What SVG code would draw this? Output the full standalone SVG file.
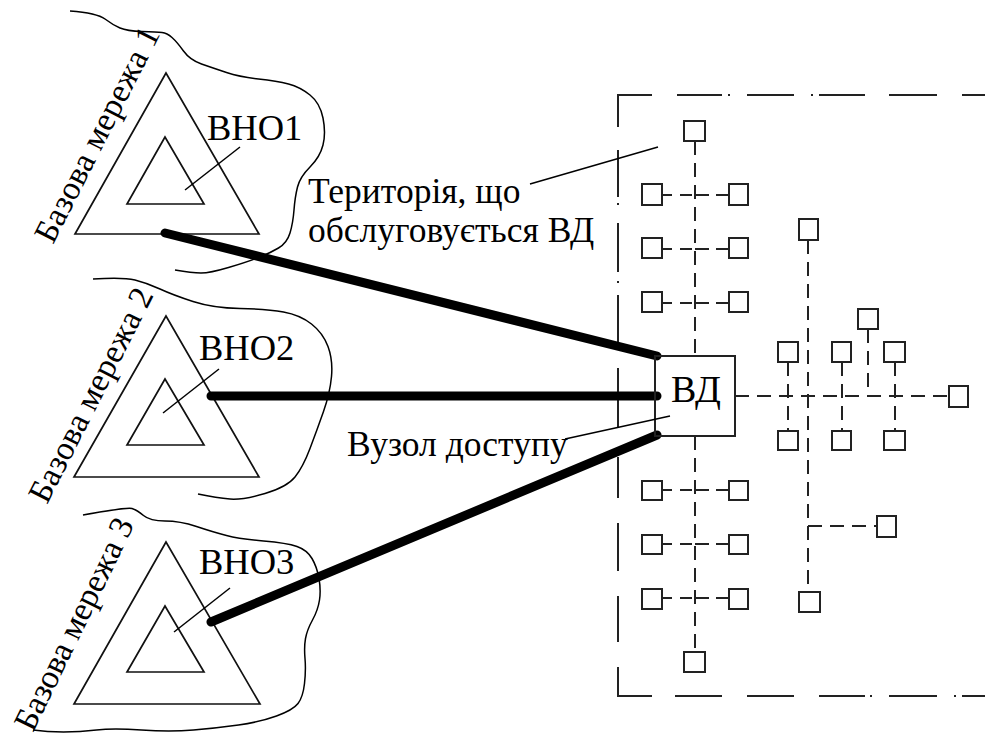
<svg xmlns="http://www.w3.org/2000/svg" width="985" height="737" viewBox="0 0 985 737">
<style>
text{font-family:"Liberation Serif","Times New Roman",serif;fill:#000}
.t{font-size:36.5px}
.m{font-size:35.5px}
.r{font-size:33.5px}
.l{fill:none;stroke:#000;stroke-width:1.5}
.tri{fill:none;stroke:#111;stroke-width:1.7}
.thick{fill:none;stroke:#000;stroke-width:9;stroke-linecap:round}
.d{fill:none;stroke:#222;stroke-width:2;stroke-dasharray:14 8}
.h{fill:none;stroke:#222;stroke-width:2;stroke-dasharray:10 8 12 3 14 7 12}
.f{fill:none;stroke:#222;stroke-width:2}
.n{fill:#fff;stroke:#222;stroke-width:2}
</style>
<rect width="985" height="737" fill="#fff"/>
<g id="frame">
<path class="f" d="M618 127V95H652M677 95H722M728 95H730M747 95H794M811 95H813M819 95H865M889 95H937M962 95H985M618 150V197M618 203V205M618 223V272M618 281V283M618 295V345M618 368V427M618 457V498M618 523V571M618 596V642M618 667V696H652M675 696H722M747 696H794M819 696H865M870 696H872M889 696H937M954 696H956M962 696H985"/>
</g>
<g id="connectors">
<path class="d" d="M695 141V356M695 436V652"/>
<path class="h" d="M662 195H729M662 249H729M662 303H729M662 490H729M662 544H729M662 598H729"/>
<path class="d" d="M735 396H949M808 240V592M808 526H877M788 362V431M842 362V431M895 362V431M868 329V396"/>
</g>
<g id="blobs">
<path class="l" d="M70 11Q97 13 105 19T120 28T142 31.5T162 32.5T172 37.5T183.5 51T201.5 64T226.5 72.5T258.5 79T288.5 84T310 95T323 118T323 145T310 167T297.5 187T294 210T290 233T278.5 248T258.5 257.5T228.5 267.5T201 273T175 270"/>
<path class="l" d="M93 279Q123 277 135 280T160 289T193 301.5T240 308.5T283.5 312T311.5 324T328 346.5T331.5 376.5T323.5 411.5T310 448.5T295 477T265 493.5T230 499T198 494"/>
<path class="l" d="M83 515Q127 507 132 508.5T143.5 515.5T165 521T196.5 526.5T226.5 535.5T263.5 541T297 546.5T312 558.5T319 578.5T319.5 600T312.5 620T305.5 638.5T305 658.5T304.5 683.5T298 703.5T276.5 716T238.5 725T193.5 730T141.5 730T96.5 730T63.5 732T33 730"/>
</g>
<g id="base-network-1">
<path class="tri" d="M166 73L75 234H259Z"/>
<path class="tri" d="M165 137L127 204H204Z"/>
<path class="l" d="M240 147L185 190"/>
<text class="t" x="207" y="140">ВНО1</text>
<text class="r" transform="translate(53 245) rotate(-63)" textLength="237" lengthAdjust="spacing">Базова мережа 1</text>
</g>
<g id="base-network-2">
<path class="tri" d="M166 316L74 477H259Z"/>
<path class="tri" d="M165 379L127 445H204Z"/>
<path class="l" d="M219 369L163 413"/>
<text class="t" x="199" y="360">ВНО2</text>
<text class="r" transform="translate(47 505) rotate(-63)" textLength="236" lengthAdjust="spacing">Базова мережа 2</text>
</g>
<g id="base-network-3">
<path class="tri" d="M166 542L74 704H260Z"/>
<path class="tri" d="M165 606L127 672H204Z"/>
<path class="l" d="M230 588L174 632"/>
<text class="t" x="199" y="574">ВНО3</text>
<text class="r" transform="translate(33 733) rotate(-64)" textLength="232" lengthAdjust="spacing">Базова мережа 3</text>
</g>
<g id="links">
<path class="thick" d="M165 233L657 356M211 396H657M211 622L657 435"/>
</g>
<g id="vd">
<path class="f" d="M655 356V436H735V356Z"/>
<text x="671" y="402" font-size="38">ВД</text>
</g>
<g id="labels">
<text class="m" x="308" y="203">Територія, що</text>
<text class="m" x="308" y="242">обслуговується ВД</text>
<text class="m" x="347" y="456">Вузол доступу</text>
<path class="l" d="M530 184L658 147M565 439L670 416"/>
</g>
<g id="terminals">
<rect class="n" x="684" y="121" width="21" height="20"/>
<rect class="n" x="642" y="184" width="20" height="21"/>
<rect class="n" x="729" y="184" width="19" height="21"/>
<rect class="n" x="642" y="238" width="20" height="20"/>
<rect class="n" x="729" y="238" width="19" height="20"/>
<rect class="n" x="642" y="292" width="20" height="20"/>
<rect class="n" x="729" y="292" width="19" height="20"/>
<rect class="n" x="642" y="481" width="20" height="19"/>
<rect class="n" x="729" y="481" width="19" height="19"/>
<rect class="n" x="642" y="535" width="20" height="19"/>
<rect class="n" x="729" y="535" width="19" height="19"/>
<rect class="n" x="642" y="589" width="20" height="20"/>
<rect class="n" x="729" y="589" width="19" height="20"/>
<rect class="n" x="684" y="652" width="21" height="20"/>
<rect class="n" x="799" y="219" width="19" height="21"/>
<rect class="n" x="858" y="309" width="20" height="20"/>
<rect class="n" x="778" y="342" width="20" height="20"/>
<rect class="n" x="832" y="342" width="19" height="20"/>
<rect class="n" x="884" y="342" width="21" height="20"/>
<rect class="n" x="949" y="386" width="19" height="21"/>
<rect class="n" x="778" y="431" width="20" height="19"/>
<rect class="n" x="832" y="431" width="19" height="19"/>
<rect class="n" x="884" y="431" width="21" height="19"/>
<rect class="n" x="877" y="516" width="19" height="21"/>
<rect class="n" x="799" y="592" width="21" height="20"/>
</g>
</svg>
